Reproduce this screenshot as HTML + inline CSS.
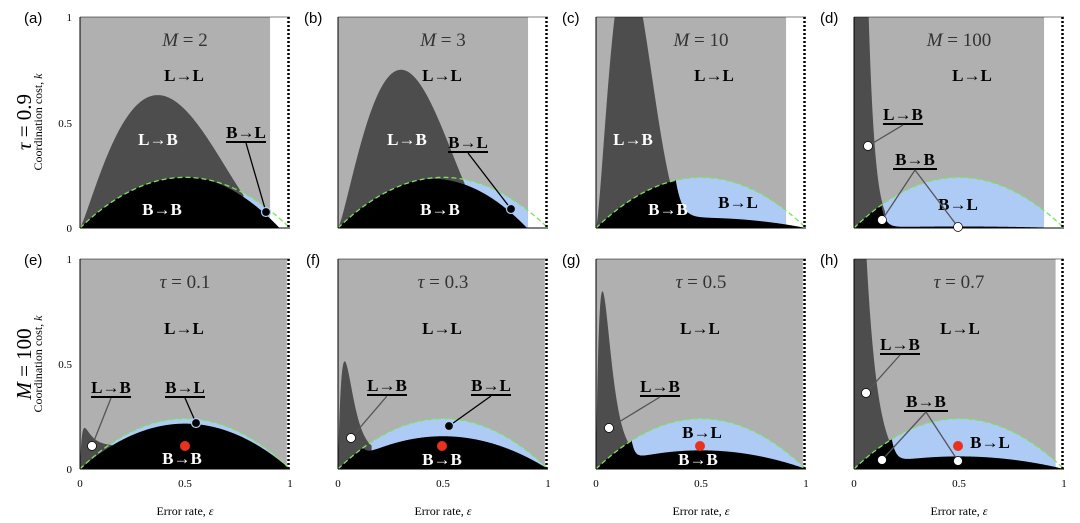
<!DOCTYPE html>
<html><head><meta charset="utf-8"><style>
html,body{margin:0;padding:0;background:#fff;}
svg{display:block;}
text{font-family:"Liberation Serif",serif;}
.lab{font-weight:bold;font-size:17px;text-anchor:middle;}
.w{fill:#fff;}
.tk{font-size:11px;}
.pl{font-family:"Liberation Sans",sans-serif;font-size:15px;}
.ttl{font-style:italic;font-size:19px;text-anchor:middle;fill:#333;}
</style></head><body>
<svg id="s" width="1080" height="523" viewBox="0 0 1080 523" xmlns="http://www.w3.org/2000/svg">
<g id="shapes"></g>
<g id="txt">
<text class="pl" x="24" y="23">(a)</text><text class="pl" x="304" y="23">(b)</text><text class="pl" x="562" y="23">(c)</text><text class="pl" x="820" y="23">(d)</text>
<text class="pl" x="24" y="265">(e)</text><text class="pl" x="306" y="265">(f)</text><text class="pl" x="562" y="265">(g)</text><text class="pl" x="820" y="265">(h)</text>
<text transform="translate(31,122) rotate(-90)" text-anchor="middle" font-size="21"><tspan font-style="italic">τ</tspan> = 0.9</text>
<text transform="translate(31,364) rotate(-90)" text-anchor="middle" font-size="21"><tspan font-style="italic">M</tspan> = 100</text>
<text transform="translate(42,122) rotate(-90)" text-anchor="middle" font-size="12">Coordination cost, <tspan font-style="italic">k</tspan></text>
<text transform="translate(42,364) rotate(-90)" text-anchor="middle" font-size="12">Coordination cost, <tspan font-style="italic">k</tspan></text>
<text class="tk" x="72" y="21" text-anchor="end">1</text><text class="tk" x="72" y="127" text-anchor="end">0.5</text><text class="tk" x="72" y="232" text-anchor="end">0</text>
<text class="tk" x="72" y="263" text-anchor="end">1</text><text class="tk" x="72" y="368" text-anchor="end">0.5</text><text class="tk" x="72" y="473" text-anchor="end">0</text>
<text class="ttl" x="185" y="46"><tspan font-style="italic">M</tspan><tspan font-style="normal"> = 2</tspan></text>
<text class="ttl" x="443" y="46"><tspan font-style="italic">M</tspan><tspan font-style="normal"> = 3</tspan></text>
<text class="ttl" x="701" y="46"><tspan font-style="italic">M</tspan><tspan font-style="normal"> = 10</tspan></text>
<text class="ttl" x="959" y="46"><tspan font-style="italic">M</tspan><tspan font-style="normal"> = 100</tspan></text>
<text class="ttl" x="185" y="288"><tspan font-style="italic">τ</tspan><tspan font-style="normal"> = 0.1</tspan></text>
<text class="ttl" x="443" y="288"><tspan font-style="italic">τ</tspan><tspan font-style="normal"> = 0.3</tspan></text>
<text class="ttl" x="701" y="288"><tspan font-style="italic">τ</tspan><tspan font-style="normal"> = 0.5</tspan></text>
<text class="ttl" x="959" y="288"><tspan font-style="italic">τ</tspan><tspan font-style="normal"> = 0.7</tspan></text>
<g class="tk" text-anchor="middle">
<text x="80" y="487">0</text><text x="185" y="487">0.5</text><text x="290" y="487">1</text>
<text x="338" y="487">0</text><text x="443" y="487">0.5</text><text x="548" y="487">1</text>
<text x="596" y="487">0</text><text x="701" y="487">0.5</text><text x="806" y="487">1</text>
<text x="854" y="487">0</text><text x="959" y="487">0.5</text><text x="1064" y="487">1</text>
</g>
<g font-size="12" text-anchor="middle">
<text x="185" y="515">Error rate, <tspan font-style="italic">ε</tspan></text>
<text x="443" y="515">Error rate, <tspan font-style="italic">ε</tspan></text>
<text x="701" y="515">Error rate, <tspan font-style="italic">ε</tspan></text>
<text x="959" y="515">Error rate, <tspan font-style="italic">ε</tspan></text>
</g>
<text class="lab" x="184" y="81">L→L</text><text class="lab w" x="158" y="145">L→B</text><text class="lab w" x="162" y="215">B→B</text>
<text class="lab" x="442" y="81">L→L</text><text class="lab w" x="407" y="145">L→B</text><text class="lab w" x="440" y="215">B→B</text>
<text class="lab" x="714" y="81">L→L</text><text class="lab w" x="633" y="145">L→B</text><text class="lab" x="738" y="208">B→L</text><text class="lab w" x="668" y="215">B→B</text>
<text class="lab" x="972" y="81">L→L</text><text class="lab" x="958" y="210">B→L</text>
<text class="lab" x="184" y="334">L→L</text><text class="lab w" x="182" y="464">B→B</text>
<text class="lab" x="442" y="334">L→L</text><text class="lab w" x="442" y="465">B→B</text>
<text class="lab" x="700" y="334">L→L</text><text class="lab" x="702" y="438">B→L</text><text class="lab w" x="698" y="465">B→B</text>
<text class="lab" x="960" y="334">L→L</text><text class="lab" x="990" y="448">B→L</text>
<text class="lab" x="246" y="138">B→L</text>
<text class="lab" x="468" y="148">B→L</text>
<text class="lab" x="903" y="120">L→B</text>
<text class="lab" x="915" y="165">B→B</text>
<text class="lab" x="111" y="393">L→B</text>
<text class="lab" x="185" y="393">B→L</text>
<text class="lab" x="387" y="391">L→B</text>
<text class="lab" x="491" y="391">B→L</text>
<text class="lab" x="660" y="392">L→B</text>
<text class="lab" x="900" y="350">L→B</text>
<text class="lab" x="926" y="407">B→B</text>
</g>
</svg>
<script>
(function(){
var NS="http://www.w3.org/2000/svg",G=document.getElementById('shapes'),T=document.getElementById('txt');
function el(n,a,p){var e=document.createElementNS(NS,n);for(var k in a)e.setAttribute(k,a[k]);(p||G).appendChild(e);return e;}
var P=function(e){return 0.96*e*(1-e);};
function gam(H,m,base,r){return function(e){return H*(e/m)*Math.exp(1-e/m)+base*(1-Math.exp(-e/r));};}
function ex(A,s){return function(e){return A*Math.exp(-e/s);};}
function beta(H,m,E,p){var q=p*(E-m)/m;return function(e){if(e>=E)return 0;return H*Math.pow(e/m,p)*Math.pow((E-e)/(E-m),q);};}
function Lf(c,e1,s){return function(e){return c*P(e)+(P(e1)*(1-c))*Math.exp(-(e-e1)/s);};}
var panels=[
 {x:80,yb:228,h:211,xm:0.905,D:beta(0.63,0.37,0.95,1.2),L:function(e){return 1.1*e*(0.95-e);}},
 {x:338,yb:228,h:211,xm:0.905,D:beta(0.75,0.3,0.75,1.3),L:function(e){return 1.15*e*(0.9-e);}},
 {x:596,yb:228,h:211,xm:0.905,D:beta(1.25,0.15,0.5,1.5),L:Lf(0.2,0.38,0.03)},
 {x:854,yb:228,h:211,xm:0.905,D:ex(10,0.0304),L:Lf(0.03,0.13,0.02)},
 {x:80,yb:469,h:210,xm:0.985,D:function(e){return 0.2*(1-Math.exp(-e/0.01))*(0.55+0.45*Math.exp(-(e-0.03)/0.04));},L:function(e){return 0.9*P(e);}},
 {x:338,yb:469,h:210,xm:0.985,D:gam(0.45,0.03,0.08,0.02),L:Lf(0.65,0.12,0.02)},
 {x:596,yb:469,h:210,xm:0.985,D:gam(0.8,0.03,0.06,0.02),L:Lf(0.37,0.17,0.015)},
 {x:854,yb:469,h:210,xm:0.96,D:ex(3.04,0.054),L:Lf(0.25,0.18,0.02)}
];
function area(p,f,a,b,fill){
  var d="M"+(p.x+a*210)+","+p.yb;
  for(var e=a;e<=b+1e-9;e+=0.002){var v=Math.max(0,Math.min(1,f(e)));d+="L"+(p.x+e*210).toFixed(2)+","+(p.yb-v*p.h).toFixed(2);}
  d+="L"+(p.x+b*210)+","+p.yb+"Z";el('path',{d:d,fill:fill});
}
panels.forEach(function(p){
  // find crossing of D below P after its peak region
  var cut=p.xm;
  for(var e=0.06;e<p.xm;e+=0.002){if(p.D(e)<=P(e)){cut=e+0.01;break;}}
  el('rect',{x:p.x,y:p.yb-p.h,width:p.xm*210,height:p.h,fill:'#b0b0b0'});
  area(p,P,0,p.xm,'#aecbf5');
  area(p,p.D,0,cut,'#4d4d4d');
  area(p,function(e){return Math.min(P(e),p.L(e));},0,1,'#000');
  var d="";for(var e=0;e<=1.0001;e+=0.005){d+=(e==0?"M":"L")+(p.x+e*210).toFixed(2)+","+(p.yb-P(e)*p.h).toFixed(2);}
  el('path',{d:d,fill:'none',stroke:'#7ee060','stroke-width':1.3,'stroke-dasharray':'5,3'});
  el('line',{x1:p.x+208.5,y1:p.yb-p.h,x2:p.x+208.5,y2:p.yb,stroke:'#000','stroke-width':2.5,'stroke-dasharray':'2,2'});
  el('line',{x1:p.x,y1:p.yb-p.h,x2:p.x,y2:p.yb,stroke:'#000','stroke-width':1});
  el('line',{x1:p.x,y1:p.yb,x2:p.x+210,y2:p.yb,stroke:'#000','stroke-width':1});
  el('line',{x1:p.x,y1:p.yb-p.h,x2:p.x+210,y2:p.yb-p.h,stroke:'#000','stroke-width':0.6});
});
var A=[[246,138,20,[[266,212,'#000']]],[468,148,20,[[511,209,'#000']]],
 [903,120,20,[[868,146,'#fff']]],[915,165,22,[[882,220,'#fff'],[958,227,'#fff']]],
 [111,393,20,[[92,446,'#fff']]],[185,393,20,[[196,423,'#000']]],
 [387,391,20,[[351,438,'#fff']]],[491,391,20,[[449,426,'#000']]],
 [660,392,20,[[609,428,'#fff']]],[900,350,20,[[866,393,'#fff']]],
 [926,407,22,[[882,460,'#fff'],[958,461,'#fff']]]];
A.forEach(function(a){
  el('line',{x1:a[0]-a[2],y1:a[1]+4,x2:a[0]+a[2],y2:a[1]+4,stroke:'#000','stroke-width':2},T);
  a[3].forEach(function(d){
    el('line',{x1:a[0],y1:a[1]+5,x2:d[0],y2:d[1],stroke:d[2]=='#fff'?'#555':'#000','stroke-width':1.3},T);
    el('circle',{cx:d[0],cy:d[1],r:4.5,fill:d[2],stroke:d[2]=='#fff'?'#000':'#aecbf5','stroke-width':d[2]=='#fff'?0.7:1.2},T);
  });
});
[[185,446],[442,446],[700,446],[958,446]].forEach(function(c){el('circle',{cx:c[0],cy:c[1],r:5,fill:'#e8321e'},T);});
})();
</script>
</body></html>
